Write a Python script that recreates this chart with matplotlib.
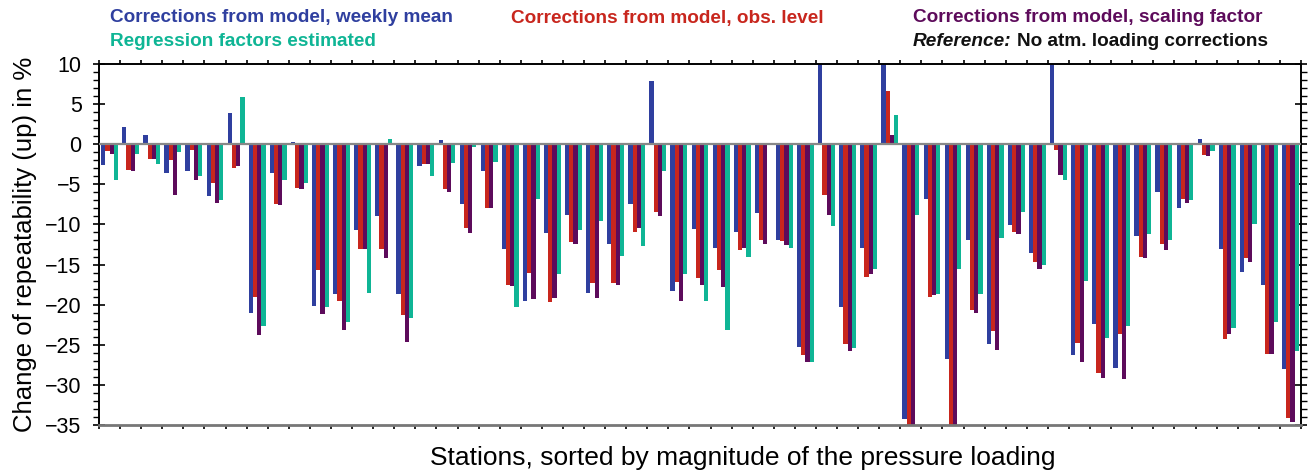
import numpy as np
import matplotlib
matplotlib.use("Agg")
import matplotlib.pyplot as plt
from matplotlib.ticker import MultipleLocator

plt.rcParams['font.family'] = ['Liberation Sans', 'DejaVu Sans']

# change of repeatability (up) in %, one value per station, stations sorted by loading magnitude
weekly_mean = [-2.6, 2.2, 1.1, -3.6, -3.3, -6.5, 3.9, -21.1, -3.6, 0.3,
               -20.2, -18.7, -10.7, -8.9, -18.7, -2.7, 0.5, -7.5, -3.4, -13.1,
               -19.6, -11.1, -8.8, -18.6, -12.5, -7.4, 7.9, -18.3, -10.6, -12.9,
               -11.0, -8.6, -11.9, -25.3, 12.0, -20.3, -12.9, 11.0, -34.3, -6.8,
               -26.8, -11.9, -24.9, -10.1, -13.5, 13.0, -26.3, -22.4, -27.9, -11.5,
               -5.9, -7.9, 0.6, -13.0, -15.9, -17.6, -28.0]
obs_level = [-0.9, -3.2, -1.8, -2.0, -0.7, -4.8, -3.0, -19.0, -7.5, -5.4,
             -15.7, -19.5, -13.1, -13.1, -21.3, -2.5, -5.6, -10.5, -7.9, -17.5,
             -16.1, -19.7, -12.2, -17.3, -17.3, -10.9, -8.4, -17.2, -16.7, -15.7,
             -13.2, -12.0, -12.1, -26.3, -6.3, -24.9, -16.6, 6.6, -36.0, -19.0,
             -36.5, -20.7, -23.3, -11.0, -14.7, -0.7, -24.8, -28.5, -23.7, -14.0,
             -12.4, -6.8, -1.4, -24.3, -14.2, -26.1, -34.1]
scaling_factor = [-1.2, -3.4, -1.9, -6.3, -4.4, -7.3, -2.7, -23.8, -7.6, -5.6,
                  -21.2, -23.2, -13.1, -14.2, -24.7, -2.5, -5.9, -11.1, -7.9, -17.7,
                  -19.3, -19.2, -12.5, -19.2, -17.5, -10.5, -8.9, -19.5, -17.6, -17.8,
                  -12.9, -12.4, -12.6, -27.2, -8.8, -25.8, -16.2, 1.2, -36.0, -18.8,
                  -36.5, -21.0, -25.7, -11.2, -15.5, -3.8, -27.1, -29.2, -29.3, -14.2,
                  -13.2, -7.3, -1.5, -23.7, -14.7, -26.1, -34.6]
regression = [-4.4, -1.2, -2.5, -1.0, -4.0, -6.9, 5.9, -22.7, -4.4, -4.8,
              -20.3, -22.1, -18.5, 0.6, -21.7, -4.0, -2.3, -0.4, -2.2, -20.3,
              -6.8, -16.2, -10.7, -9.6, -13.9, -12.7, -3.3, -16.2, -19.5, -23.1,
              -14.0, 0.2, -12.9, -27.2, -10.2, -25.4, -15.6, 3.6, -8.8, -18.7,
              -15.5, -18.7, -11.7, -8.5, -15.0, -4.5, -17.0, -24.1, -22.6, -11.2,
              -11.9, -6.9, -0.9, -22.9, -9.9, -22.1, -25.8]

series = [weekly_mean, obs_level, scaling_factor, regression]
colors = ['#2f3f9f', '#c8261d', '#5d0b5b', '#0fb595']

n = len(weekly_mean)
x = np.arange(n)
w = 0.2

fig = plt.figure(figsize=(13.1, 4.72), dpi=100)
ax = fig.add_axes([0.0756, 0.0996, 0.9175, 0.7648])

for j, (vals, c) in enumerate(zip(series, colors)):
    ax.bar(x + 0.1 + w * j, vals, width=w, align='edge', color=c, linewidth=0, zorder=2)

ax.axhline(0, color='#888888', lw=1.6, zorder=3)

ax.set_xlim(0, n)
ax.set_ylim(-35, 10)
ax.yaxis.set_major_locator(MultipleLocator(5))
ax.yaxis.set_minor_locator(MultipleLocator(1))
ax.xaxis.set_major_locator(MultipleLocator(1))
ax.tick_params(axis='y', which='major', direction='inout', length=9, width=1.2,
               labelsize=15.5, pad=8, left=True, right=True)
ax.tick_params(axis='y', which='minor', direction='out', length=4, width=1,
               left=True, right=True)
ax.tick_params(axis='x', which='major', direction='out', length=3, width=1.2,
               top=True, bottom=True, labelbottom=False)
for s in ax.spines.values():
    s.set_linewidth(1.4)
ax.spines['bottom'].set_color('#777777')
ax.spines['bottom'].set_linewidth(2)

ax.set_ylabel('Change of repeatability (up) in %', fontsize=18.5, labelpad=6)
fig.text(743 / 1310, 1 - 458 / 472, 'Stations, sorted by magnitude of the pressure loading',
         fontsize=19, ha='center', va='center')

# legend as coloured text
fs = 13.7
fig.text(110 / 1310, 1 - 18 / 472, 'Corrections from model, weekly mean', color=colors[0],
         fontsize=fs, fontweight='bold', va='center')
fig.text(110 / 1310, 1 - 41 / 472, 'Regression factors estimated', color=colors[3],
         fontsize=fs, fontweight='bold', va='center')
fig.text(511 / 1310, 1 - 18 / 472, 'Corrections from model, obs. level', color=colors[1],
         fontsize=fs, fontweight='bold', va='center')
fig.text(913 / 1310, 1 - 18 / 472, 'Corrections from model, scaling factor', color=colors[2],
         fontsize=fs, fontweight='bold', va='center')
ref = fig.text(913 / 1310, 1 - 41 / 472, 'Reference:', color='#111111',
               fontsize=fs, fontweight='bold', fontstyle='italic', va='center')
r = fig.canvas.get_renderer()
bb = ref.get_window_extent(renderer=r)
fig.text((bb.x1 + 5) / 1310, 1 - 41 / 472, 'No atm. loading corrections', color='#111111',
         fontsize=fs, fontweight='bold', va='center')

fig.savefig('out.png', dpi=100)
